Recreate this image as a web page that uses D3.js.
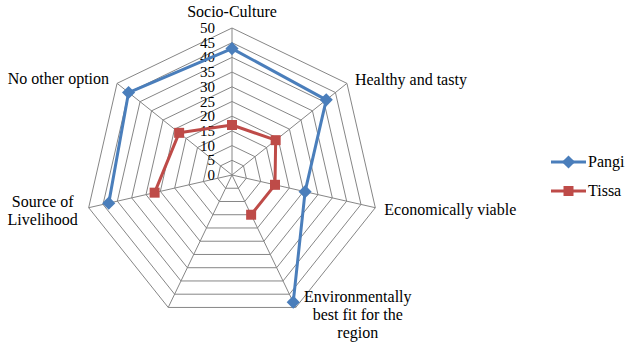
<!DOCTYPE html>
<html>
<head>
<meta charset="utf-8">
<script src="https://cdn.jsdelivr.net/npm/d3@7"></script>
</head>
<body style="margin:0">
<svg id="chart" width="629" height="346"></svg>
<script>
// categories, clockwise from the top; the 7th spoke has no label and no values
let categories = ["Socio-Culture", "Healthy and tasty", "Economically viable",
    "Environmentally best fit for the region", "", "Source of Livelihood", "No other option"];
let pangiValues = [43, 41, 25.5, 48, null, 43, 45];
let tissaValues = [17, 19, 15, 15, null, 27, 23];
let tickValues = [0, 5, 10, 15, 20, 25, 30, 35, 40, 45, 50];
let seriesNames = ["Pangi", "Tissa"];
let seriesColors = ["#4a7ebb", "#be4b48"];

let cx = 232, cy = 175, radius = 147;
let gridColor = "#868686";
let fontFamily = "Liberation Serif";
let textScale = 0.8;

let svg = d3.select("#chart");

let rScale = d3.scaleLinear().domain([0, 50]).range([0, radius]);
let angleScale = d3.scaleLinear().domain([0, categories.length]).range([0, 2 * Math.PI]);

function point(i, v) {
    let a = angleScale(i);
    return [cx + rScale(v) * Math.sin(a), cy - rScale(v) * Math.cos(a)];
}

// text drawn at a larger nominal size and scaled down
function addText(x, y, str, size, anchor) {
    return svg.append("text")
        .attr("transform", "translate(" + x + "," + y + ") scale(" + textScale + ")")
        .attr("font-family", fontFamily)
        .attr("font-size", size / textScale)
        .attr("text-anchor", anchor || "start")
        .text(str);
}

let grid = svg.append("g").attr("class", "grid");

// rings
for (let t of tickValues.slice(1)) {
    let pts = categories.map((c, i) => point(i, t));
    grid.append("polygon")
        .attr("points", pts.map(p => p.join(",")).join(" "))
        .attr("fill", "none")
        .attr("stroke", gridColor)
        .attr("stroke-width", 1);
}

// spokes
categories.forEach(function(c, i) {
    let p = point(i, 50);
    grid.append("line")
        .attr("x1", cx).attr("y1", cy)
        .attr("x2", p[0]).attr("y2", p[1])
        .attr("stroke", gridColor)
        .attr("stroke-width", 1);
});

// tick labels along the top spoke
tickValues.forEach(function(t) {
    addText(cx - 17, cy - rScale(t) + 5, t, 15, "end");
});

// category labels: offsets from each outer vertex
let labelOffsets = [
    { dx: 0, dy: -11, anchor: "middle" },
    { dx: 8, dy: 2, anchor: "start" },
    { dx: 9, dy: 7, anchor: "start" },
    { dx: 62, dy: -5, anchor: "middle", lines: ["Environmentally", "best fit for the", "region"] },
    { dx: 0, dy: 0, anchor: "middle" },
    { dx: -46, dy: -1, anchor: "middle", lines: ["Source of", "Livelihood"] },
    { dx: -8, dy: 1, anchor: "end" }
];

categories.forEach(function(c, i) {
    if (c === "") return;
    let p = point(i, 50);
    let o = labelOffsets[i];
    let lines = o.lines || [c];
    lines.forEach(function(l, j) {
        addText(p[0] + o.dx, p[1] + o.dy + j * 18, l, 16, o.anchor);
    });
});

// series lines with gaps at blank values, closed back to the first spoke
let lineGen = d3.line()
    .defined(d => d.v != null)
    .x(d => point(d.i, d.v)[0])
    .y(d => point(d.i, d.v)[1]);

function drawSeries(values, color, shape) {
    let pts = values.map((v, i) => ({ i: i, v: v }));
    pts.push({ i: 0, v: values[0] });
    svg.append("path")
        .attr("d", lineGen(pts))
        .attr("fill", "none")
        .attr("stroke", color)
        .attr("stroke-width", 3)
        .attr("stroke-linejoin", "round");
    svg.selectAll(".marker-" + shape)
        .data(values.map((v, i) => ({ i: i, v: v })).filter(d => d.v != null))
        .enter()
        .append("path")
        .attr("transform", d => "translate(" + point(d.i, d.v) + ")")
        .attr("d", d3.symbol().type(shape === "diamond" ? d3.symbolDiamond2 : d3.symbolSquare).size(shape === "diamond" ? 110 : 100))
        .attr("fill", color);
}

drawSeries(pangiValues, seriesColors[0], "diamond");
drawSeries(tissaValues, seriesColors[1], "square");

// legend
let legendX = 551, legendY = 162;
seriesNames.forEach(function(name, k) {
    let y = legendY + k * 29;
    svg.append("line")
        .attr("x1", legendX).attr("x2", legendX + 35)
        .attr("y1", y).attr("y2", y)
        .attr("stroke", seriesColors[k])
        .attr("stroke-width", 3);
    svg.append("path")
        .attr("transform", "translate(" + (legendX + 17.5) + "," + y + ")")
        .attr("d", d3.symbol().type(k === 0 ? d3.symbolDiamond2 : d3.symbolSquare).size(k === 0 ? 110 : 100))
        .attr("fill", seriesColors[k]);
    addText(legendX + 37, y + 5, name, 16, "start");
});
</script>
</body>
</html>
